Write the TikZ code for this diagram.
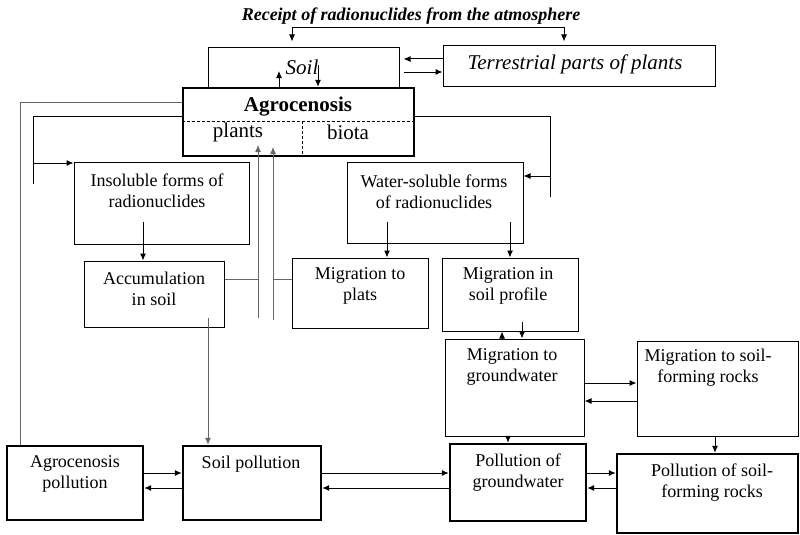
\documentclass[tikz,border=0pt]{standalone}
\usepackage{fontspec}
\setmainfont{Liberation Serif}
\usetikzlibrary{arrows.meta}

\begin{document}
\begin{tikzpicture}[x=1pt, y=-1pt,
		box/.style={draw, line width=1pt, inner sep=0pt},
		thickbox/.style={draw, line width=2.4pt, inner sep=0pt, fill=white},
		txt/.style={align=center, inner sep=0pt, font=\fontsize{18}{21}\selectfont},
		bigtxt/.style={align=center, inner sep=0pt, font=\fontsize{21}{24}\selectfont},
		arr/.style={-{Latex[length=7pt,width=6pt]}, line width=1pt},
		garr/.style={arr, draw=black!60},
		gline/.style={line width=1pt, draw=black!60}]
	\useasboundingbox (0,0) rectangle (800,535);
	% upper part
	\node[txt, font=\fontsize{18}{21}\selectfont\bfseries\itshape] (atm) at (411,16) {Receipt of radionuclides from the atmosphere};
	\coordinate (fork) at (411,28);
	\node[box, minimum width=191, minimum height=40] (soil) at (303.5,68) {};
	\node[box, minimum width=272, minimum height=40] (terr) at (579,66) {};
	\node[thickbox, minimum width=231, minimum height=68] (agro) at (298.5,122) {};
	\node[bigtxt, font=\fontsize{21}{24}\selectfont\itshape] (soilT) at (302,67) {Soil};
	\node[bigtxt, font=\fontsize{21}{24}\selectfont\itshape] (terrT) at (575,64) {Terrestrial parts of plants};
	\node[bigtxt, font=\fontsize{21}{24}\selectfont\bfseries] (agroT) at (298,107) {Agrocenosis};
	\node[bigtxt] (plantsT) at (238,132) {plants};
	\node[bigtxt] (biotaT) at (348,132) {biota};
	\draw[dash pattern=on 3pt off 2pt] (agro.west |- 0,121) -- (agro.east |- 0,121);
	\draw[dash pattern=on 3pt off 2pt] (302,121) -- (302,0 |- agro.south);
	\draw[arr, shorten >=6pt] (fork) -| (292,0 |- soil.north);
	\draw[arr, shorten >=4pt] (fork) -| (564,0 |- terr.north);
	\draw[arr, shorten >=4pt] (terr.west |- 0,59) -- (soil.east |- 0,59);
	\draw[arr, shorten <=4pt] (soil.east |- 0,72) -- (terr.west |- 0,72);
	\draw[arr] (279,0 |- agro.north) -- (279,71);
	\draw[arr] (318,65) -- (318,0 |- agro.north);
	% middle part
	\node[box, minimum width=175, minimum height=82] (ins) at (161.5,203) {};
	\node[box, minimum width=176, minimum height=81] (wat) at (435,202.5) {};
	\node[box, minimum width=140, minimum height=66] (acc) at (154,294) {};
	\node[box, minimum width=136, minimum height=70] (mplt) at (360,293) {};
	\node[box, minimum width=136, minimum height=73] (mprof) at (510,294.5) {};
	\node[box, minimum width=139, minimum height=97] (mgw) at (514.5,387.5) {};
	\node[box, minimum width=161, minimum height=95] (mrock) at (717.5,388.5) {};
	\node[txt] (insT) at (157,190.5) {Insoluble forms of\\radionuclides};
	\node[txt] (watT) at (434,191.5) {Water-soluble forms\\of radionuclides};
	\node[txt] (accT) at (154,289) {Accumulation\\in soil};
	\node[txt] (mpltT) at (360,285.5) {Migration to\\plats};
	\node[txt] (mprofT) at (508,285.5) {Migration in\\soil profile};
	\node[txt] (mgwT) at (512,366.5) {Migration to\\groundwater};
	\node[txt] (mrockT) at (708,368) {Migration to soil-\\forming rocks};
	% lower part
	\node[thickbox, minimum width=136, minimum height=74] (ap) at (75,483) {};
	\node[thickbox, minimum width=138, minimum height=74] (sp) at (252,483) {};
	\node[thickbox, minimum width=136, minimum height=77] (pgw) at (518,482.5) {};
	\node[thickbox, minimum width=181, minimum height=79] (prock) at (707.5,493.5) {};
	\node[txt] (apT) at (75,474) {Agrocenosis\\pollution};
	\node[txt] (spT) at (251,464) {Soil pollution};
	\node[txt] (pgwT) at (518,473) {Pollution of\\groundwater};
	\node[txt] (prockT) at (712,483) {Pollution of soil-\\forming rocks};
	% connectors
	\draw[gline] (agro.west |- 0,102) -| (20,0 |- ap.north);
	\draw[line width=1pt] (agro.west |- 0,116) -| (33,184);
	\draw[arr] (33,163) -- (ins.west |- 0,163);
	\draw[line width=1pt] (agro.east |- 0,116) -| (550,197);
	\draw[arr] (550,176) -- (wat.east |- 0,176);
	\draw[arr] (143,222) -- (143,0 |- acc.north);
	\draw[arr] (387,222) -- (387,0 |- mplt.north);
	\draw[arr] (510,222) -- (510,0 |- mprof.north);
	\draw[gline] (acc.east |- 0,279) -- (258,279);
	\draw[garr] (258,318) -- (258,145);
	\draw[gline] (mplt.west |- 0,279) -- (273,279);
	\draw[garr] (273,320) -- (273,147);
	\draw[garr] (208,318) -- (208,0 |- sp.north);
	\draw[arr] (502,0 |- mgw.north) -- (502,0 |- mprof.south);
	\draw[arr] (522,322) -- (522,0 |- mgw.north);
	\draw[arr] (mgw.east |- 0,383) -- (mrock.west |- 0,383);
	\draw[arr] (mrock.west |- 0,401) -- (mgw.east |- 0,401);
	\draw[arr] (508,0 |- mgw.south) -- (508,0 |- pgw.north);
	\draw[arr] (715,0 |- mrock.south) -- (715,0 |- prock.north);
	\foreach \a/\b in {ap/sp, sp/pgw, pgw/prock} {
		\draw[arr] (\a.east |- 0,473) -- (\b.west |- 0,473);
		\draw[arr] (\b.west |- 0,488) -- (\a.east |- 0,488);
	}
\end{tikzpicture}
\end{document}
